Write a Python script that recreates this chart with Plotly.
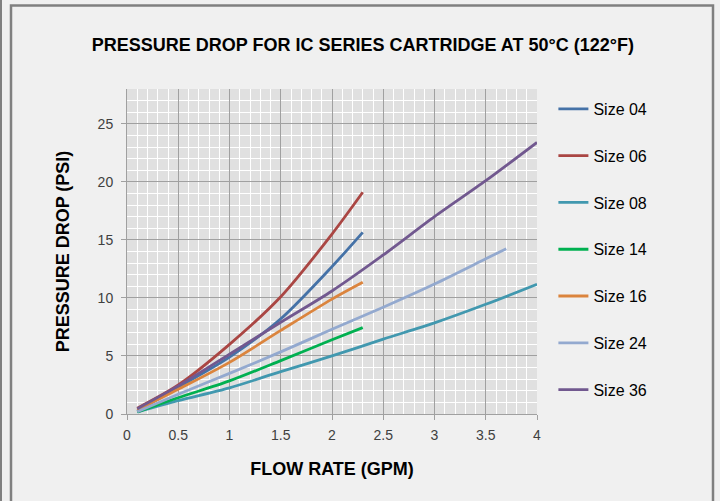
import plotly.graph_objects as go

names = ["Size 04", "Size 06", "Size 08", "Size 14", "Size 16", "Size 24", "Size 36"]
colors = ["#4572A7", "#AA4643", "#4198AF", "#00B050", "#DB843D", "#93A9CF", "#71588F"]

x_04 = [0.1, 0.5, 1.0, 1.5, 2.0, 2.3]
y_04 = [0.25, 2.3, 4.9, 8.2, 12.7, 15.65]
x_06 = [0.1, 0.5, 1.0, 1.5, 2.0, 2.3]
y_06 = [0.5, 2.5, 6.0, 10.1, 15.5, 19.1]
x_08 = [0.1, 0.5, 1.0, 1.5, 2.0, 2.5, 3.0, 3.5, 4.0]
y_08 = [0.17, 1.15, 2.25, 3.65, 5.0, 6.45, 7.85, 9.45, 11.18]
x_14 = [0.1, 0.5, 1.0, 1.5, 2.0, 2.3]
y_14 = [0.17, 1.4, 2.85, 4.6, 6.4, 7.44]
x_16 = [0.1, 0.5, 1.0, 1.5, 2.0, 2.3]
y_16 = [0.35, 2.13, 4.45, 7.2, 9.9, 11.35]
x_24 = [0.1, 0.5, 1.0, 1.5, 2.0, 2.5, 3.0, 3.5, 3.7]
y_24 = [0.2, 1.7, 3.5, 5.35, 7.3, 9.2, 11.2, 13.37, 14.24]
x_36 = [0.1, 0.5, 1.0, 1.5, 2.0, 2.5, 3.0, 3.5, 4.0]
y_36 = [0.46, 2.42, 5.15, 7.9, 10.6, 13.7, 17.0, 20.1, 23.4]

xs = [x_04, x_06, x_08, x_14, x_16, x_24, x_36]
ys = [y_04, y_06, y_08, y_14, y_16, y_24, y_36]

x_ticks = [0, 0.5, 1, 1.5, 2, 2.5, 3, 3.5, 4]
x_tick_text = ["0", "0.5", "1", "1.5", "2", "2.5", "3", "3.5", "4"]
y_ticks = [0, 5, 10, 15, 20, 25]

fig = go.Figure()
for i, (nm, c) in enumerate(zip(names, colors)):
    fig.add_trace(go.Scatter(
        x=xs[i], y=ys[i], mode="lines", name=nm, legendgroup=nm,
        line=dict(color=c, width=2.8, shape="spline", smoothing=0.8),
    ))

font_family = "Liberation Sans, Arial, sans-serif"
fig.update_layout(
    width=720, height=501,
    margin=dict(l=127, r=183, t=89, b=87),
    paper_bgcolor="#F0F0F0",
    plot_bgcolor="#E0E0E0",
    font=dict(family=font_family, size=13, color="#404040"),
    title=dict(text="<b>PRESSURE DROP FOR IC SERIES CARTRIDGE AT 50°C (122°F)</b>",
               x=0.504, xanchor="center", y=0.91, yanchor="middle",
               font=dict(size=18, color="#000000", family=font_family)),
    legend=dict(x=1.04, xanchor="left", y=0.991, yanchor="top",
                bgcolor="rgba(0,0,0,0)", tracegroupgap=23,
                font=dict(size=16, color="#000000"), itemwidth=30),
    showlegend=True,
)
fig.update_xaxes(
    range=[0, 4], tickvals=x_ticks, ticktext=x_tick_text,
    showgrid=True, gridcolor="#A0A0A0", gridwidth=1,
    minor=dict(dtick=0.1, showgrid=True, gridcolor="#FFFFFF", gridwidth=1),
    showline=True, linecolor="#A0A0A0", linewidth=1,
    ticks="outside", ticklen=5, tickcolor="#A0A0A0",
    zeroline=False, automargin=False, ticklabelstandoff=3,
    title=dict(text="<b>FLOW RATE (GPM)</b>", font=dict(size=18, color="#000000"), standoff=20),
    tickfont=dict(size=14, color="#404040"),
)
fig.update_yaxes(
    range=[0, 28], tickvals=y_ticks,
    showgrid=True, gridcolor="#A0A0A0", gridwidth=1,
    minor=dict(dtick=1, showgrid=True, gridcolor="#FFFFFF", gridwidth=1),
    showline=True, linecolor="#A0A0A0", linewidth=1,
    ticks="outside", ticklen=5, tickcolor="#A0A0A0",
    zeroline=False, automargin=False, ticklabelstandoff=5,
    title=dict(text="<b>PRESSURE DROP (PSI)</b>", font=dict(size=18, color="#000000"), standoff=23),
    tickfont=dict(size=14, color="#404040"),
)
# outer frame of the chart area
fig.add_shape(type="rect", xref="paper", yref="paper",
              x0=(11 - 127) / 410, x1=(713 - 127) / 410,
              y0=(414 - 520) / 324.7, y1=(414 - 6) / 324.7,
              line=dict(color="#808080", width=2.5), layer="below")
fig.add_shape(type="line", xref="paper", yref="paper",
              x0=(1 - 127) / 410, x1=(1 - 127) / 410,
              y0=(414 - 520) / 324.7, y1=(414 - 0) / 324.7,
              line=dict(color="#808080", width=2), layer="below")

fig.write_html("out.html", config={"displayModeBar": False},
               post_script="document.body.style.margin='0';")
